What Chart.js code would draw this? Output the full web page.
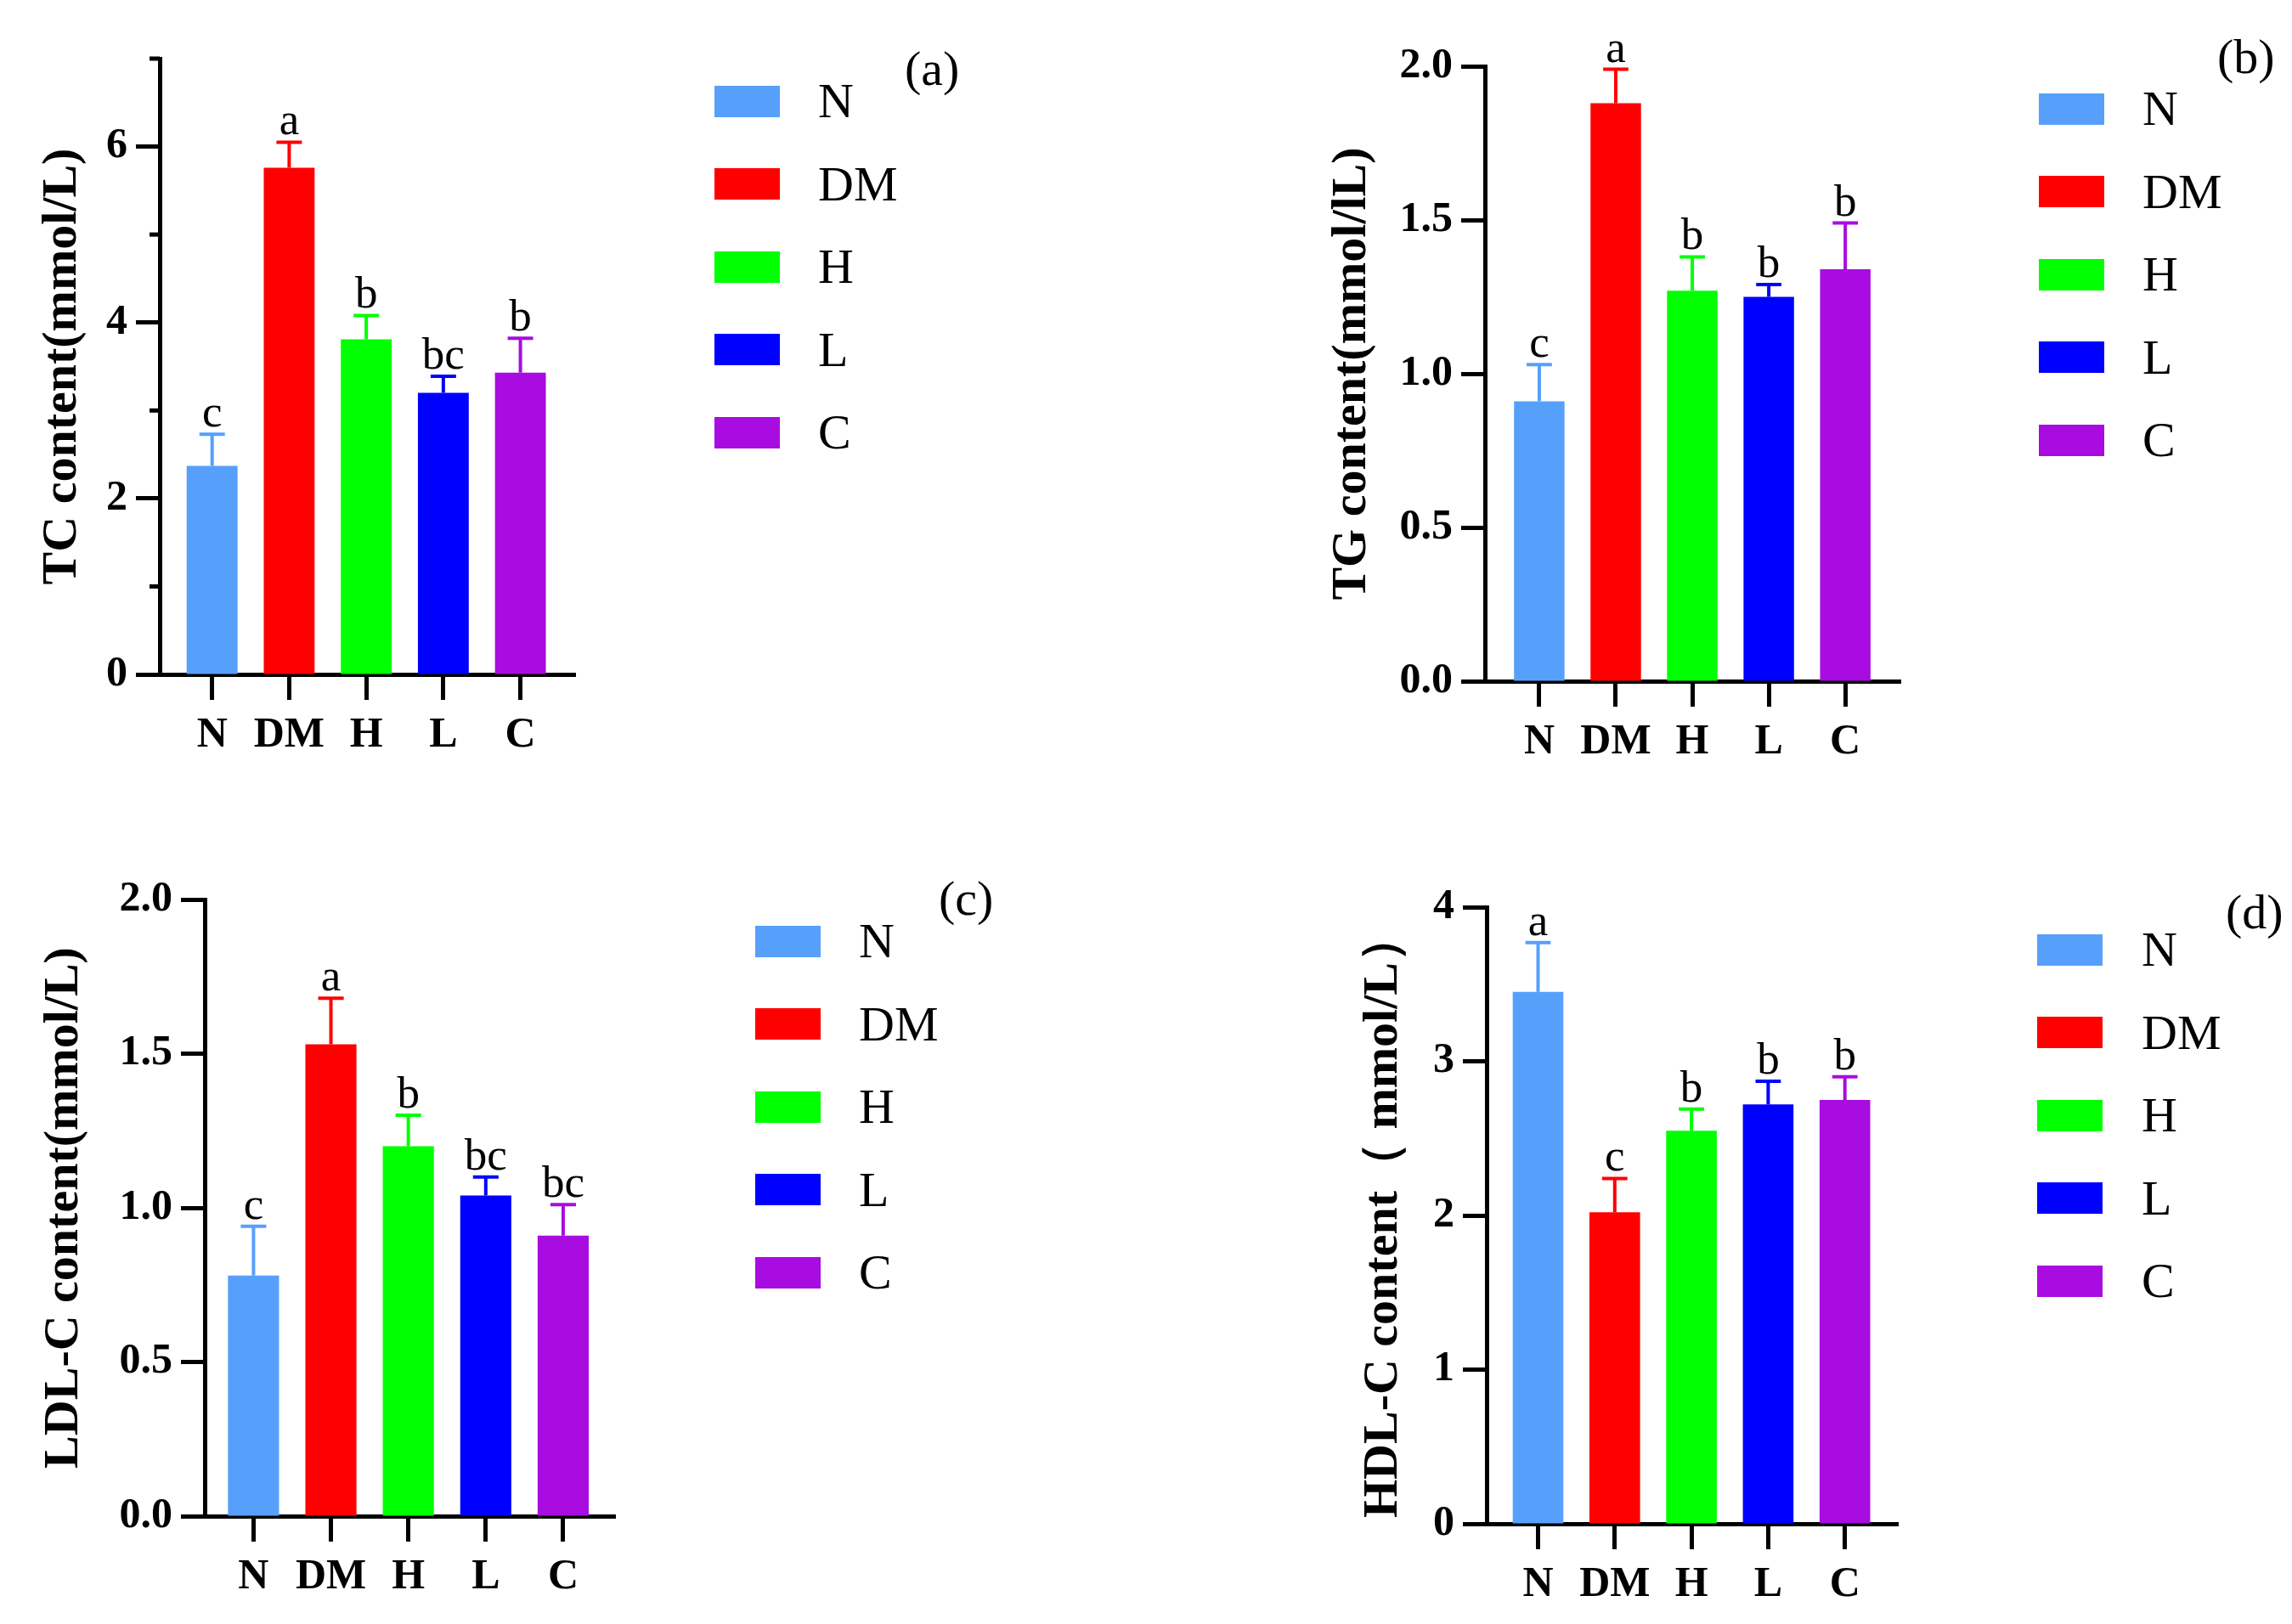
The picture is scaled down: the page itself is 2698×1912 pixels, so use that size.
<!DOCTYPE html>
<html>
<head>
<meta charset="utf-8">
<script src="https://cdn.jsdelivr.net/npm/chart.js@4.4.0/dist/chart.umd.min.js"></script>
<style>
  body { margin: 0; background: #fff; }
  #fig { position: relative; width: 2698px; height: 1912px; background: #fff; font-family: "Liberation Serif", "Times New Roman", serif; color: #000; overflow: hidden; }
  canvas { position: absolute; }
  .leg { position: absolute; display: flex; align-items: center; height: 60px; font-size: 58px; line-height: 60px; white-space: nowrap; }
  .leg .box { display: inline-block; width: 77px; height: 37px; }
  .tag { position: absolute; font-size: 58px; line-height: 58px; white-space: nowrap; }
</style>
</head>
<body>
<div id="fig"></div>
<script>
// groups and colours
const groups = ['N', 'DM', 'H', 'L', 'C'];
const groupColors = ['#56a0fb', '#ff0000', '#00ff00', '#0000ff', '#a80ce0'];

// (a) TC
const tcMean = [2.37, 5.76, 3.81, 3.20, 3.43];
const tcErr = [0.36, 0.29, 0.27, 0.19, 0.39];
const tcLetters = ['c', 'a', 'b', 'bc', 'b'];
const tcTicks = [0, 2, 4, 6];
const tcTickLabels = ['0', '2', '4', '6'];
const tcMinorTicks = [1, 3, 5, 7];

// (b) TG
const tgMean = [0.91, 1.88, 1.27, 1.25, 1.34];
const tgErr = [0.12, 0.11, 0.11, 0.04, 0.15];
const tgLetters = ['c', 'a', 'b', 'b', 'b'];
const tgTicks = [0, 0.5, 1, 1.5, 2];
const tgTickLabels = ['0.0', '0.5', '1.0', '1.5', '2.0'];

// (c) LDL-C
const ldlMean = [0.78, 1.53, 1.20, 1.04, 0.91];
const ldlErr = [0.16, 0.15, 0.10, 0.06, 0.10];
const ldlLetters = ['c', 'a', 'b', 'bc', 'bc'];
const ldlTicks = [0, 0.5, 1, 1.5, 2];
const ldlTickLabels = ['0.0', '0.5', '1.0', '1.5', '2.0'];

// (d) HDL-C
const hdlMean = [3.45, 2.02, 2.55, 2.72, 2.75];
const hdlErr = [0.32, 0.22, 0.14, 0.15, 0.15];
const hdlLetters = ['a', 'c', 'b', 'b', 'b'];
const hdlTicks = [0, 1, 2, 3, 4];
const hdlTickLabels = ['0', '1', '2', '3', '4'];

const serif = '"Liberation Serif", "Times New Roman", serif';
const fig = document.getElementById('fig');

// panel layout (pixels on the page)
const panels = [
  { tag: '(a)', title: 'TC content(mmol/L)', mean: tcMean, err: tcErr, letters: tcLetters,
    ticks: tcTicks, tickLabels: tcTickLabels, minor: tcMinorTicks, yMax: 7,
    xMin: -0.68, xMax: 4.71,
    cx: 0, cy: 0, axisX: 188, right: 677, top: 69, zero: 794, titleX: 74,
    legX: 841, labX: 963, legY: 119, tagX: 1065, tagY: 52 },
  { tag: '(b)', title: 'TG content(mmol/lL)', mean: tgMean, err: tgErr, letters: tgLetters,
    ticks: tgTicks, tickLabels: tgTickLabels, minor: [], yMax: 2,
    xMin: -0.71, xMax: 4.72,
    cx: 1500, cy: 0, axisX: 1748, right: 2237, top: 78, zero: 802, titleX: 1592,
    legX: 2400, labX: 2522, legY: 128, tagX: 2610, tagY: 38 },
  { tag: '(c)', title: 'LDL-C content(mmol/L)', mean: ldlMean, err: ldlErr, letters: ldlLetters,
    ticks: ldlTicks, tickLabels: ldlTickLabels, minor: [], yMax: 2,
    xMin: -0.63, xMax: 4.67,
    cx: 0, cy: 980, axisX: 241, right: 724, top: 1059, zero: 1785, titleX: 76,
    legX: 889, labX: 1011, legY: 1108, tagX: 1105, tagY: 1029 },
  { tag: '(d)', title: 'HDL-C content（ mmol/L）', mean: hdlMean, err: hdlErr, letters: hdlLetters,
    ticks: hdlTicks, tickLabels: hdlTickLabels, minor: [], yMax: 4,
    xMin: -0.67, xMax: 4.69,
    cx: 1500, cy: 980, axisX: 1750, right: 2234, top: 1068, zero: 1794, titleX: 1629,
    legX: 2398, labX: 2521, legY: 1118, tagX: 2620, tagY: 1045 }
];

const X_AXIS_H = 110;
const TITLE_SIZE = 58;
const TITLE_LH = 70;

function errorBars(p) {
  return {
    id: 'errorBars',
    afterDatasetsDraw(chart) {
      const ctx = chart.ctx;
      const ys = chart.scales.y;
      const area = chart.chartArea;
      ctx.save();
      chart.getDatasetMeta(0).data.forEach((bar, i) => {
        const yTop = ys.getPixelForValue(p.mean[i] + p.err[i]);
        const half = bar.width / 4;
        ctx.strokeStyle = groupColors[i];
        ctx.lineWidth = 4;
        ctx.beginPath();
        ctx.moveTo(bar.x, bar.y);
        ctx.lineTo(bar.x, yTop);
        ctx.moveTo(bar.x - half, yTop);
        ctx.lineTo(bar.x + half, yTop);
        ctx.stroke();
        ctx.fillStyle = '#000';
        ctx.font = '53px ' + serif;
        ctx.textAlign = 'center';
        ctx.textBaseline = 'alphabetic';
        ctx.fillText(p.letters[i], bar.x, yTop - 9);
      });
      // short minor ticks on the y axis
      ctx.strokeStyle = '#000';
      ctx.lineWidth = 5;
      p.minor.forEach(v => {
        const y = ys.getPixelForValue(v);
        ctx.beginPath();
        ctx.moveTo(area.left - 12, y);
        ctx.lineTo(area.left, y);
        ctx.stroke();
      });
      ctx.restore();
    }
  };
}

panels.forEach(p => {
  const W = p.right - p.cx + 30;
  const H = p.zero - p.cy + X_AXIS_H + 6;
  const cv = document.createElement('canvas');
  cv.width = W; cv.height = H;
  cv.style.left = p.cx + 'px';
  cv.style.top = p.cy + 'px';
  fig.appendChild(cv);

  new Chart(cv, {
    type: 'bar',
    data: {
      datasets: [{
        data: groups.map((g, i) => ({ x: i, y: p.mean[i] })),
        backgroundColor: groupColors,
        borderWidth: 0,
        barPercentage: 0.66,
        categoryPercentage: 1
      }]
    },
    options: {
      responsive: false,
      animation: false,
      layout: {
        padding: { left: 0, top: p.top - p.cy, right: W - (p.right - p.cx), bottom: H - (p.zero - p.cy) - X_AXIS_H }
      },
      plugins: { legend: { display: false }, tooltip: { enabled: false } },
      scales: {
        x: {
          type: 'linear', min: p.xMin, max: p.xMax, offset: false,
          afterBuildTicks: s => { s.ticks = groups.map((g, i) => ({ value: i })); },
          afterFit: s => { s.height = X_AXIS_H; },
          border: { display: true, color: '#000', width: 5 },
          grid: { offset: false, drawOnChartArea: false, drawTicks: true, tickLength: 30, tickWidth: 5, tickColor: '#000' },
          ticks: { color: '#000', padding: 12, autoSkip: false, maxRotation: 0,
                   font: { family: serif, size: 50, weight: 'bold' },
                   callback: (v, i) => groups[i] }
        },
        y: {
          type: 'linear', min: 0, max: p.yMax,
          afterBuildTicks: s => { s.ticks = p.ticks.map(v => ({ value: v })); },
          afterFit: s => { s.width = p.axisX - p.cx; },
          border: { display: true, color: '#000', width: 5 },
          grid: { drawOnChartArea: false, drawTicks: true, tickLength: 28, tickWidth: 5, tickColor: '#000' },
          ticks: { color: '#000', padding: 10,
                   font: { family: serif, size: 50, weight: 'bold' },
                   callback: (v, i) => p.tickLabels[i] },
          title: { display: true, text: p.title, color: '#000',
                   font: { family: serif, size: TITLE_SIZE, weight: 'bold', lineHeight: TITLE_LH / TITLE_SIZE },
                   padding: { top: p.titleX - p.cx - TITLE_LH / 2, bottom: 0 } }
        }
      }
    },
    plugins: [errorBars(p)]
  });

  // legend
  groups.forEach((g, i) => {
    const row = document.createElement('div');
    row.className = 'leg';
    row.style.left = p.legX + 'px';
    row.style.top = (p.legY + i * 97.5 - 30) + 'px';
    const box = document.createElement('span');
    box.className = 'box';
    box.style.background = groupColors[i];
    const lab = document.createElement('span');
    lab.textContent = g;
    lab.style.marginLeft = (p.labX - p.legX - 77) + 'px';
    row.appendChild(box);
    row.appendChild(lab);
    fig.appendChild(row);
  });

  const tag = document.createElement('div');
  tag.className = 'tag';
  tag.textContent = p.tag;
  tag.style.left = p.tagX + 'px';
  tag.style.top = p.tagY + 'px';
  fig.appendChild(tag);
});
</script>
</body>
</html>
